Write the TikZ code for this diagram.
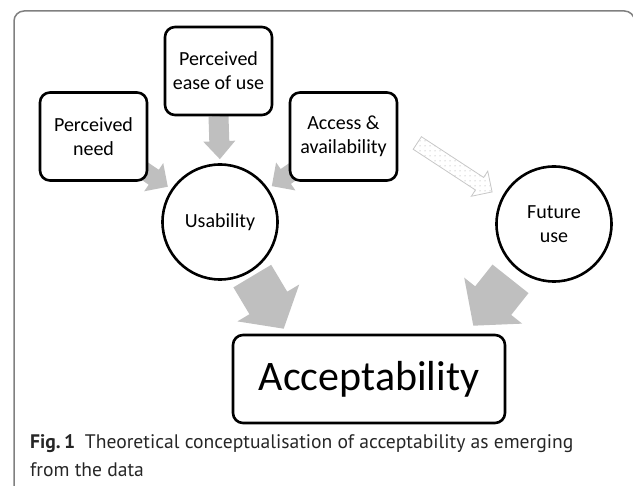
\documentclass[tikz,border=0pt]{standalone}
\usepackage{fontspec}
\setmainfont{PT Sans}
\newfontfamily\diagfont{Carlito}
\usepackage{tikz}
\usetikzlibrary{calc}
\usetikzlibrary{patterns.meta}
\pgfdeclarelayer{bg}
\pgfsetlayers{bg,main}

\tikzset{
	ashaft/.store in=\ashaft, ahead/.store in=\ahead, ahlen/.store in=\ahlen,
	ashaft=20, ahead=32, ahlen=18,
	box/.style={draw, line width=2.6, rounded corners=10, fill=white, align=center, inner sep=0pt,
		minimum width=107, minimum height=88, font=\diagfont\fontsize{20}{24}\selectfont},
	ring/.style={draw, circle, line width=2.6, fill=white, align=center, inner sep=0pt,
		minimum size=115, font=\diagfont\fontsize{20}{24}\selectfont},
	grayarrow/.style={fill=black!25, draw=none},
	dotarrow/.style={draw=black!22, line width=.8, pattern={Dots[distance=5pt, radius=.5pt]}, pattern color=black!40},
}

% fat arrow from #2 to #3, cut #4 at the start and #5 at the end
\newcommand\blockarrow[5][]{%
	\path (#2) coordinate (ba-a) (#3) coordinate (ba-b);
	\path let \p1=($(ba-b)-(ba-a)$) in \pgfextra{%
		\pgfmathsetmacro\balen{veclen(\x1,\y1)}%
		\pgfmathsetmacro\baang{atan2(\y1,\x1)}%
		\global\let\balen\balen \global\let\baang\baang};
	\draw[shift={(ba-a)}, rotate=\baang, x=1pt, y=1pt, #1]
		({#4},{-\ashaft/2}) -- ({\balen-#5-\ahlen},{-\ashaft/2}) -- ({\balen-#5-\ahlen},{-\ahead/2})
		-- ({\balen-#5},0) -- ({\balen-#5-\ahlen},{\ahead/2}) -- ({\balen-#5-\ahlen},{\ashaft/2})
		-- ({#4},{\ashaft/2}) -- cycle;
}

\begin{document}
\begin{tikzpicture}[x=1pt, y=-1pt]
	\useasboundingbox (0,0) rectangle (633,486);
	\draw[black!50, line width=1.5, rounded corners=10] (14,500) -- (14,11) -- (634.5,11) -- (634.5,500);

	\node[box] (need) at (93.5,136.5) {Perceived\\need};
	\node[box] (ease) at (218.5,71) {Perceived\\ease of use};
	\node[box] (access) at (343.5,136.5) {Access \&\\availability};
	\node[ring] (use) at (220,222) {Usability};
	\node[ring] (fut) at (554,224) {Future\\use};
	\node[box, minimum width=272, font=\diagfont\fontsize{42}{48}\selectfont] (acc) at (369,379) {Acceptability};

	\begin{pgfonlayer}{bg}
		\blockarrow[grayarrow, ashaft=18, ahead=34, ahlen=17]{need.center}{use.center}{50}{63}
		\blockarrow[grayarrow, ashaft=18, ahead=34, ahlen=17]{access.center}{use.center}{50}{63}
		\blockarrow[grayarrow]{ease.south}{use.north}{0}{4}
		\blockarrow[dotarrow, ashaft=15, ahead=30, ahlen=15]{$(access.east)+(19,6.5)$}{$(fut.west)+(-3,-32)$}{0}{0}
		\blockarrow[grayarrow, ashaft=44, ahead=72, ahlen=30]{use.center}{$(acc.north west)+(52,-5)$}{63}{0}
		\blockarrow[grayarrow, ashaft=46, ahead=74, ahlen=32]{fut.center}{$(acc.north east)+(-33,-8)$}{70}{0}
	\end{pgfonlayer}

	\node[anchor=north west, align=left, inner sep=0pt, text=black!85, font=\fontsize{19.6}{28}\selectfont] (cap) at (30,434)
		{\textbf{Fig.\,1}\enspace Theoretical conceptualisation of acceptability as emerging\\from the data};
\end{tikzpicture}
\end{document}
